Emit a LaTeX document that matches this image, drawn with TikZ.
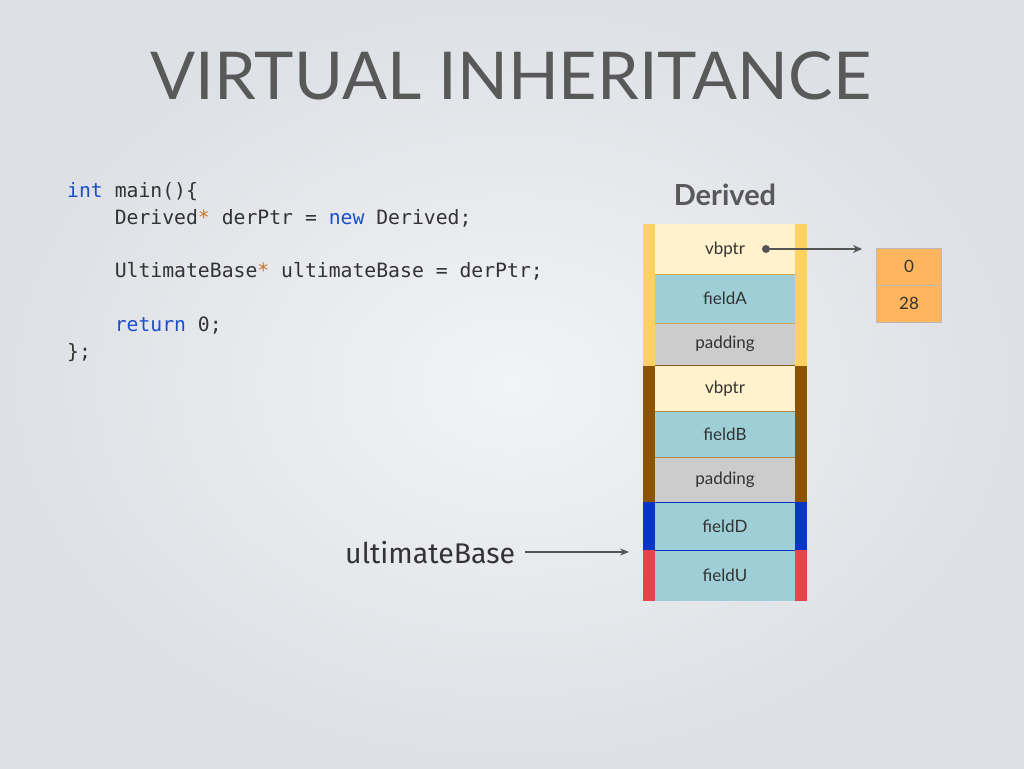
\documentclass[tikz,border=0pt]{standalone}
\usepackage{fontspec}
\setmainfont{Lato}
\setmonofont{DejaVu Sans Mono}
\newfontfamily\handfont{Fira Sans}
\usetikzlibrary{arrows.meta}
\definecolor{bgin}{HTML}{F2F3F5}
\definecolor{bgout}{HTML}{DDE0E5}
\definecolor{titlegray}{HTML}{595959}
\definecolor{codegray}{HTML}{333333}
\definecolor{kwblue}{HTML}{1C4FCC}
\definecolor{staror}{HTML}{C8782A}
\definecolor{vbfill}{HTML}{FFF2CC}
\definecolor{fieldfill}{HTML}{9ECFD7}
\definecolor{padfill}{HTML}{CCCCCC}
\definecolor{stripyellow}{HTML}{FFD160}
\definecolor{stripbrown}{HTML}{8C5400}
\definecolor{stripblue}{HTML}{0636C8}
\definecolor{stripred}{HTML}{E8424B}
\definecolor{vtfill}{HTML}{FFB45E}
\definecolor{vtline}{HTML}{B8B8B8}
\definecolor{arrowgray}{HTML}{555555}
\definecolor{celltext}{HTML}{333333}
\tikzset{
  cell/.style={rectangle, minimum width=140pt, inner sep=0pt, anchor=north,
    text=celltext, font=\fontsize{17}{20}\selectfont},
  vtcell/.style={rectangle, draw=vtline, line width=0.8pt, fill=vtfill,
    minimum width=65pt, minimum height=37pt, inner sep=0pt, anchor=north,
    text=celltext, font=\fontsize{17}{20}\selectfont},
  pointer/.style={draw=arrowgray, line width=1.8pt, -{Stealth[length=9pt,width=8pt]}},
}
\begin{document}
\begin{tikzpicture}[x=1pt,y=-1pt]
\useasboundingbox (0,0) rectangle (1024,768);
\shade[inner color=bgin, outer color=bgout] (0,0) rectangle (1024,768);

% title
\node[text=titlegray, font=\fontsize{66}{70}\selectfont, inner sep=0pt] (title) at (511,76)
  {\scalebox{1.01}[1]{VIRTUAL INHERITANCE}};

% code
\node[anchor=north west, align=left, inner sep=0pt, text=codegray,
  font=\ttfamily\fontsize{19.75}{26.8}\selectfont] (code) at (67,182)
{\textcolor{kwblue}{int} main()\{\\
\hphantom{xxxx}Derived\textcolor{staror}{*} derPtr = \textcolor{kwblue}{new} Derived;\\
\mbox{}\\
\hphantom{xxxx}UltimateBase\textcolor{staror}{*} ultimateBase = derPtr;\\
\mbox{}\\
\hphantom{xxxx}\textcolor{kwblue}{return} 0;\\
\};};

% Derived label
\node[text=titlegray, font=\bfseries\fontsize{29}{32}\selectfont] (dlabel) at (725,195) {Derived};

% strips
\fill[stripyellow] (643,224) rectangle (655,366);
\fill[stripyellow] (795,224) rectangle (807,366);
\fill[stripbrown] (643,366) rectangle (655,502);
\fill[stripbrown] (795,366) rectangle (807,502);
\fill[stripblue] (643,502) rectangle (655,550);
\fill[stripblue] (795,502) rectangle (807,550);
\fill[stripred] (643,550) rectangle (655,601);
\fill[stripred] (795,550) rectangle (807,601);

% cells
\node[cell, fill=vbfill, minimum height=50pt] (vb1) at (725,224) {vbptr};
\node[cell, fill=fieldfill, minimum height=49pt] (fa) at (725,274) {fieldA};
\node[cell, fill=padfill, minimum height=42pt] (pad1) at (725,323) {padding};
\node[cell, fill=vbfill, minimum height=45pt] (vb2) at (725,366) {vbptr};
\node[cell, fill=fieldfill, minimum height=46pt] (fb) at (725,411) {fieldB};
\node[cell, fill=padfill, minimum height=45pt] (pad2) at (725,457) {padding};
\node[cell, fill=fieldfill, minimum height=48pt] (fd) at (725,502) {fieldD};
\node[cell, fill=fieldfill, minimum height=51pt] (fu) at (725,550) {fieldU};

% divider lines
\draw[stripyellow!80!black, line width=0.6pt] (vb1.south west) -- (vb1.south east);
\draw[stripyellow!80!black, line width=0.6pt] (fa.south west) -- (fa.south east);
\draw[stripbrown, line width=1pt] (pad1.south west) -- (pad1.south east);
\draw[stripbrown!70, line width=0.8pt] (vb2.south west) -- (vb2.south east);
\draw[stripbrown!70, line width=0.8pt] (fb.south west) -- (fb.south east);
\draw[stripblue, line width=0.8pt] (pad2.south west) -- (pad2.south east);
\draw[stripblue, line width=0.8pt] (fd.south west) -- (fd.south east);

% vtable
\node[vtcell] (vt0) at (909,248) {0};
\node[vtcell] (vt1) at (909,285) {28};

% vbptr pointer
\coordinate (dot) at (766,249);
\coordinate (vtend) at (862,249);
\fill[arrowgray] (dot) circle (4pt);
\draw[pointer] (dot) -- (vtend);

% ultimateBase pointer
\node[text=codegray, font=\handfont\fontsize{28.5}{32}\selectfont, anchor=west, inner sep=0pt] (ub) at (345,553) {ultimateBase};
\coordinate (ubend) at (629,552);
\draw[draw=arrowgray, line width=1.5pt, -{Stealth[length=9pt,width=7pt]}] ([xshift=10pt]ub.east |- ubend) -- (ubend);
\end{tikzpicture}
\end{document}
